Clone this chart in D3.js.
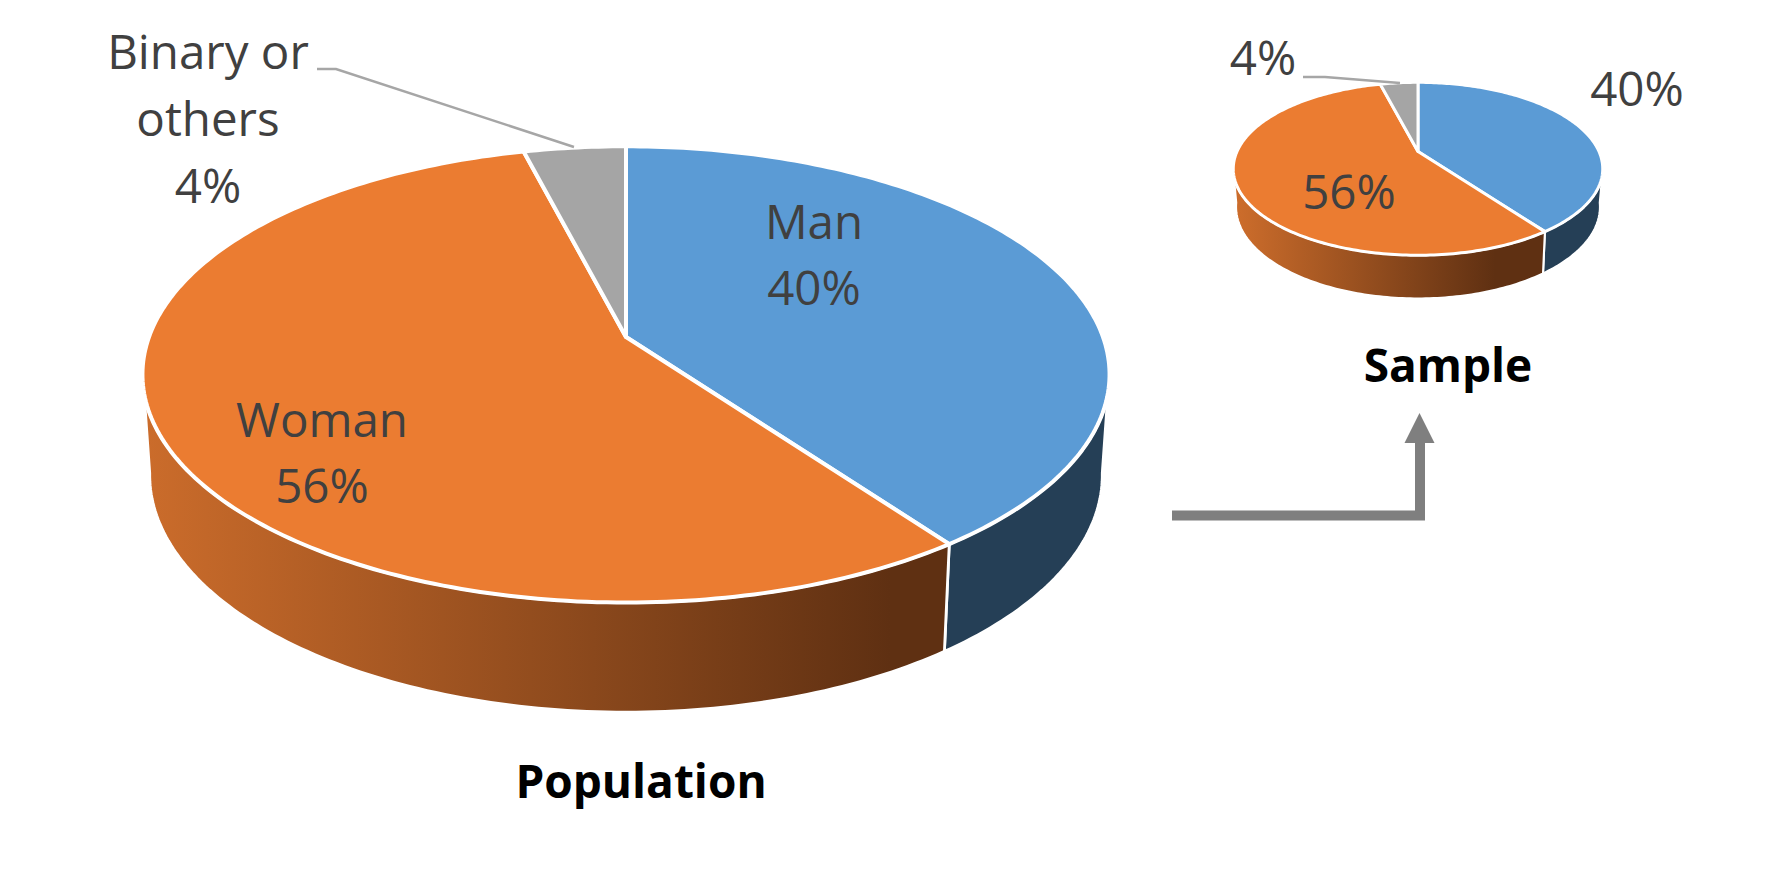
<!DOCTYPE html>
<html><head><meta charset="utf-8">
<script src="https://cdnjs.cloudflare.com/ajax/libs/d3/7.8.5/d3.min.js"></script>
<style>html,body{margin:0;padding:0;background:#fff;overflow:hidden}svg{display:block}text{font-family:"Open Sans",Lato,sans-serif}</style>
</head><body><svg id="c" width="1773" height="875"></svg>
<script>
const categories = ["Man", "Woman", "Binary or others"];
const populationValues = [40, 56, 4];
const sampleValues = [40, 56, 4];
const populationTitle = "Population";
const sampleTitle = "Sample";
const sliceColors = ["#5b9bd5", "#eb7c31", "#a5a5a5"];
const sideColors = ["#253f56", "url(#SIDE)", "none"];

const svg = d3.select("#c");
const defs = svg.append("defs");
const line = d3.line();
const pieGen = d3.pie().sort(null).value(d => d);
const DEG = Math.PI / 180;

function drawPie(g) {
  const id = g.id;
  const grad = defs.append("linearGradient").attr("id", id).attr("gradientUnits", "userSpaceOnUse")
    .attr("x1", g.gx0).attr("x2", g.gx1).attr("y1", 0).attr("y2", 0);
  grad.append("stop").attr("offset", 0).attr("stop-color", "#cb6c2b");
  grad.append("stop").attr("offset", 1).attr("stop-color", "#5f3012");

  // perspective projection of a circle lying in the pie plane
  const project = (a, sx, sy, dy) => {
    const u = Math.sin(a), v = -Math.cos(a), w = 1 - g.k * v;
    return [g.cx + sx * g.rx * u / w, g.cy + dy + sy * g.ry * v / w];
  };
  const top = a => project(a, 1, 1, 0);
  const bot = a => project(a, g.sx, g.sy, g.h);
  const arcPts = (f, a0, a1) => {
    const n = Math.max(2, Math.ceil(Math.abs(a1 - a0) / (1 * DEG)));
    return d3.range(n + 1).map(i => f(a0 + (a1 - a0) * i / n));
  };
  const arcs = pieGen(g.values);

  const topR = 104 * DEG, topL = 256 * DEG, botR = 99 * DEG, botL = 261 * DEG;
  const sides = svg.append("g");
  arcs.forEach((d, i) => {
    if (d.endAngle <= topR || d.startAngle >= topL || sideColors[i] === "none") return;
    const tA = Math.max(d.startAngle, topR), tB = Math.min(d.endAngle, topL);
    const bA = d.startAngle < topR ? Math.max(d.startAngle, botR) : d.startAngle;
    const bB = d.endAngle > topL ? Math.min(d.endAngle, botL) : d.endAngle;
    const pts = arcPts(top, tA, tB).concat(arcPts(bot, bB, bA));
    sides.append("path").attr("d", line(pts) + "Z")
      .attr("fill", sideColors[i].replace("SIDE", id))
      .attr("stroke", "#fff").attr("stroke-width", g.sw * 0.7).attr("stroke-linejoin", "round");
  });
  const tops = svg.append("g");
  arcs.forEach((d, i) => {
    const pts = [[g.cx, g.cy]].concat(arcPts(top, d.startAngle, d.endAngle));
    tops.append("path").attr("d", line(pts) + "Z")
      .attr("fill", sliceColors[i]).attr("stroke", "#fff")
      .attr("stroke-width", g.sw).attr("stroke-linejoin", "round");
  });
}

drawPie({ id: "gradBig", values: populationValues, cx: 626, cy: 337, rx: 477, ry: 222, k: 0.164, sx: 0.985, sy: 1.04, h: 99, sw: 4, gx0: 145, gx1: 890 });
drawPie({ id: "gradSmall", values: sampleValues, cx: 1418, cy: 151.5, rx: 181, ry: 83, k: 0.2, sx: 0.985, sy: 1.06, h: 37, sw: 3, gx0: 1240, gx1: 1495 });

// leader lines
const leaders = [
  [[317, 69], [336, 69], [574, 147]],
  [[1303, 77], [1325, 77], [1400, 83]]
];
svg.append("g").selectAll("path").data(leaders).join("path")
  .attr("d", d => line(d)).attr("fill", "none").attr("stroke", "#a6a6a6").attr("stroke-width", 2.5);

// arrow
svg.append("path").attr("d", line([[1172, 515.5], [1420, 515.5], [1420, 440]])).attr("fill", "none")
  .attr("stroke", "#7f7f7f").attr("stroke-width", 10);
svg.append("path").attr("d", line([[1419.5, 413], [1434.5, 443], [1404.5, 443]]) + "Z").attr("fill", "#7f7f7f");

// labels
const pct = v => v + "%";
const labels = [
  { t: "Binary or", x: 208, y: 69 },
  { t: "others", x: 208, y: 136 },
  { t: pct(populationValues[2]), x: 208, y: 203 },
  { t: categories[0], x: 814, y: 239 },
  { t: pct(populationValues[0]), x: 814, y: 305 },
  { t: categories[1], x: 322, y: 437 },
  { t: pct(populationValues[1]), x: 322, y: 503 },
  { t: pct(sampleValues[2]), x: 1263, y: 75 },
  { t: pct(sampleValues[0]), x: 1637, y: 106 },
  { t: pct(sampleValues[1]), x: 1349, y: 209 }
];
svg.append("g").selectAll("text").data(labels).join("text")
  .attr("x", d => d.x).attr("y", d => d.y).attr("text-anchor", "middle")
  .attr("font-size", 47.5).attr("fill", "#404040").text(d => d.t);
const titles = [{ t: populationTitle, x: 641, y: 798 }, { t: sampleTitle, x: 1448, y: 382 }];
svg.append("g").selectAll("text").data(titles).join("text")
  .attr("x", d => d.x).attr("y", d => d.y).attr("text-anchor", "middle")
  .attr("font-size", 46).attr("font-weight", 700).attr("fill", "#000").text(d => d.t);
</script></body></html>
